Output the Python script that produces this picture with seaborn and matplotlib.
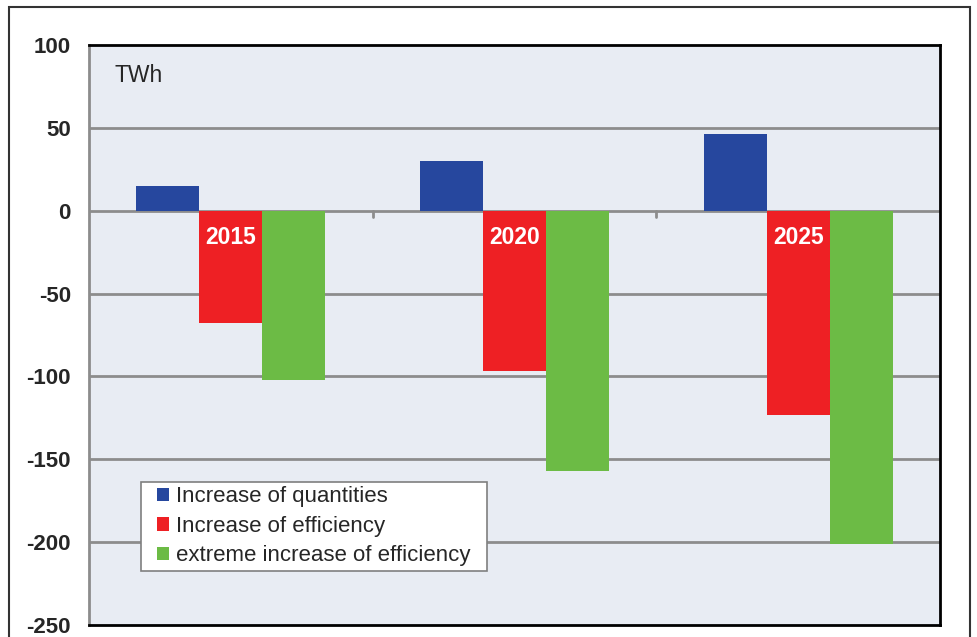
import matplotlib
matplotlib.use("Agg")
import matplotlib.pyplot as plt
import seaborn as sns
import pandas as pd
from matplotlib.patches import Rectangle

years = ["2015", "2020", "2025"]
series = ["Increase of quantities", "Increase of efficiency", "extreme increase of efficiency"]
quantities = [15, 30, 46]
efficiency = [-68, -97, -123]
extreme = [-102, -157, -201]
yticks = [100, 50, 0, -50, -100, -150, -200, -250]

colors = ["#26479E", "#EE2024", "#6CBB45"]

rows = []
for s, vals in zip(series, [quantities, efficiency, extreme]):
    for y, v in zip(years, vals):
        rows.append({"year": y, "series": s, "value": v})
df = pd.DataFrame(rows)

sns.set_style("white")
plt.rcParams["font.family"] = ["Liberation Sans", "DejaVu Sans"]

W, H = 978, 637
fig = plt.figure(figsize=(W/100, H/100), dpi=100)
ax = fig.add_axes([89/W, 1-625/H, (940-89)/W, (625-45)/H])
ax.set_facecolor("#E8ECF3")

sns.barplot(data=df, x="year", y="value", hue="series", hue_order=series,
            palette=colors, width=0.667, gap=0, saturation=1, ax=ax,
            edgecolor="none", linewidth=0, errorbar=None, zorder=3)

ax.set_ylim(-250, 100)
ax.set_xlim(-0.5, 2.5)
ax.set_yticks(yticks)
ax.set_yticklabels([str(t) for t in yticks], fontsize=16, fontweight="bold")
ax.set_xticks([])
ax.set_xlabel("")
ax.set_ylabel("")
ax.tick_params(axis="y", direction="out", length=7, width=2, color="#8C8C8C", pad=6)

for t in yticks[1:-1]:
    ax.axhline(t, color="#8C8C8C", lw=2, zorder=1)

# category separator ticks on zero line
for i in range(len(years) - 1):
    ax.plot([i + 0.5, i + 0.5], [0, -3.5], color="#8C8C8C", lw=2, zorder=2)

for side in ["top", "right", "bottom"]:
    ax.spines[side].set_color("black")
    ax.spines[side].set_linewidth(2)
ax.spines["left"].set_color("#8C8C8C")
ax.spines["left"].set_linewidth(2)

# year labels in red bars
for i, y in enumerate(years):
    ax.text(i, -16, y, color="white", fontsize=16.5, fontweight="bold",
            ha="center", va="center", zorder=5)

ax.text(0.03, (625-76)/580, "TWh", transform=ax.transAxes, fontsize=16.5,
        ha="left", va="center")

leg = ax.legend(loc="upper left", bbox_to_anchor=((152.5-89)/851, (625-482)/580),
                frameon=False, fontsize=16, handlelength=0.55,
                handleheight=0.55, handletextpad=0.32, borderpad=0.2, labelspacing=0.38,
                borderaxespad=0)
leg.set_zorder(6)

# legend frame, wider than the legend content as in the reference
fig.canvas.draw()
bb = leg.get_window_extent()
x0, x1 = bb.x0 - 11.5, bb.x1 + 12
y0, y1 = bb.y0, bb.y1
ax.add_patch(Rectangle((x0 / W, y0 / H), (x1 - x0) / W, (y1 - y0) / H,
                       transform=fig.transFigure, facecolor="white",
                       edgecolor="#7F7F7F", linewidth=1.2, zorder=5.5, clip_on=False))

fig.patches.append(Rectangle((9/W, -0.05), (970-9)/W, 1.05 - 7/H,
                             transform=fig.transFigure, fill=False,
                             edgecolor="#333333", linewidth=1.5))

fig.savefig("out.png", dpi=100)
